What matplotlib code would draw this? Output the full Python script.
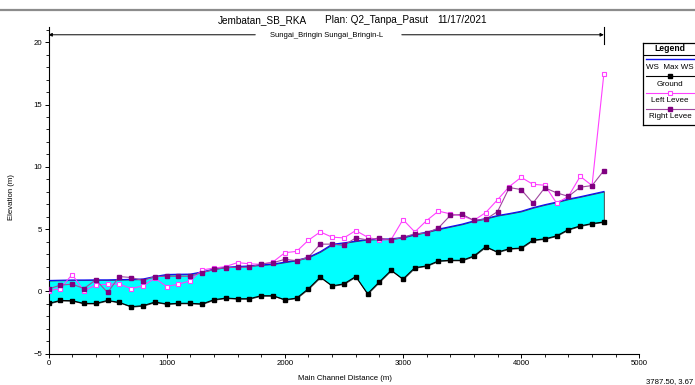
import matplotlib
matplotlib.use("Agg")
import matplotlib.pyplot as plt
from matplotlib.lines import Line2D
from matplotlib.ticker import MultipleLocator

plt.rcParams['font.family'] = ['Liberation Sans', 'DejaVu Sans']

# ---- profile data (main channel distance in m, elevations in m) ----
station_m = [0, 100, 200, 300, 400, 500, 600, 700, 800, 900,
             1000, 1100, 1200, 1300, 1400, 1500, 1600, 1700, 1800, 1900,
             2000, 2100, 2200, 2300, 2400, 2500, 2600, 2700, 2800, 2900,
             3000, 3100, 3200, 3300, 3400, 3500, 3600, 3700, 3800, 3900,
             4000, 4100, 4200, 4300, 4400, 4500, 4600, 4700]

ws_max = [0.88, 0.90, 0.92, 0.92, 0.93, 0.93, 0.95, 0.97, 1.00, 1.20,
          1.36, 1.38, 1.39, 1.57, 1.80, 1.94, 2.00, 2.05, 2.13, 2.20,
          2.35, 2.50, 2.74, 3.19, 3.78, 3.90, 4.04, 4.17, 4.19, 4.22,
          4.33, 4.57, 4.76, 5.00, 5.20, 5.40, 5.66, 5.85, 6.09, 6.25,
          6.43, 6.72, 6.96, 7.17, 7.41, 7.60, 7.81, 8.02]

ground = [-0.96, -0.72, -0.74, -0.96, -0.96, -0.72, -0.88, -1.22, -1.14, -0.85,
          -1.00, -0.95, -0.95, -1.00, -0.66, -0.53, -0.58, -0.58, -0.34, -0.34,
          -0.66, -0.53, 0.22, 1.15, 0.45, 0.61, 1.20, -0.18, 0.77, 1.70,
          0.99, 1.91, 2.05, 2.45, 2.50, 2.50, 2.84, 3.59, 3.16, 3.43,
          3.48, 4.12, 4.22, 4.46, 4.97, 5.26, 5.45, 5.58]

left_levee = [0.05, 0.24, 1.36, 0.06, 0.51, 0.59, 0.59, 0.24, 0.45, 1.07,
              0.40, 0.59, 0.85, 1.73, 1.88, 2.00, 2.32, 2.22, 2.18, 2.37,
              3.11, 3.22, 4.12, 4.78, 4.36, 4.30, 4.89, 4.36, 4.12, 4.17,
              5.77, 4.78, 5.69, 6.45, 6.23, 6.07, 5.71, 6.33, 7.36, 8.42,
              9.16, 8.60, 8.53, 7.09, 7.63, 9.24, 8.50, 17.45]

right_levee = [0.20, 0.51, 0.59, 0.24, 0.93, -0.08, 1.20, 1.12, 0.88, 1.20,
               1.22, 1.22, 1.22, 1.52, 1.77, 1.92, 1.94, 1.94, 2.22, 2.31,
               2.58, 2.47, 2.74, 3.80, 3.80, 3.70, 4.30, 4.14, 4.30, 4.12,
               4.36, 4.62, 4.70, 5.10, 6.10, 6.19, 5.71, 5.79, 6.41, 8.34,
               8.18, 7.09, 8.32, 7.92, 7.63, 8.37, 8.50, 9.70]

x_ticks = [0, 1000, 2000, 3000, 4000, 5000]
y_ticks = [-5, 0, 5, 10, 15, 20]

title_parts = ["Jembatan_SB_RKA", "Plan: Q2_Tanpa_Pasut", "11/17/2021"]
reach_label = "Sungai_Bringin Sungai_Bringin-L"
legend_labels = ["WS  Max WS", "Ground", "Left Levee", "Right Levee"]
cursor_text = "3787.50, 3.67"

# ---- colours ----
C_WS = '#1010F0'
C_FILL = '#00FFFF'
C_LL = '#FF40FF'
C_RL_LINE = '#A048A0'
C_RL_MARK = '#800080'

W, H = 695, 385
fig = plt.figure(figsize=(W / 100, H / 100), dpi=100)
fig.patch.set_facecolor('white')


def fx(px):
    return px / W


def fy(py):
    return 1 - py / H


# window separator line at the top
fig.add_artist(Line2D([0, 1], [fy(10), fy(10)], transform=fig.transFigure,
                      color='#8c8c8c', lw=1.6))

ax_left, ax_right = 48.5, 639.3
ax_top, ax_bot = 27.3, 353.8
ax = fig.add_axes([fx(ax_left), fy(ax_bot), (ax_right - ax_left) / W,
                   (ax_bot - ax_top) / H])
ax.set_xlim(0, 5000)
ax.set_ylim(-5, 21.2)

for s in ('top', 'right'):
    ax.spines[s].set_visible(False)
for s in ('left', 'bottom'):
    ax.spines[s].set_linewidth(0.8)

ax.set_xticks(x_ticks)
ax.set_yticks(y_ticks)
ax.xaxis.set_minor_locator(MultipleLocator(200))
ax.yaxis.set_minor_locator(MultipleLocator(1))
ax.tick_params(which='major', length=3, width=0.7, labelsize=5.6, pad=1.5)
ax.tick_params(which='minor', length=2, width=0.6)

# water between ground and max water surface
ax.fill_between(station_m, ground, ws_max, facecolor=C_FILL,
                edgecolor='#4a4a4a', lw=0.7, zorder=2)
ax.plot(station_m, ws_max, color=C_WS, lw=0.9, zorder=3)
ax.plot(station_m, ground, color='black', lw=0.8, marker='s', ms=2.7,
        zorder=4)
ax.plot(station_m, left_levee, color=C_LL, lw=0.8, marker='s', ms=3.0,
        mfc='white', mec=C_LL, mew=0.8, zorder=5)
ax.plot(station_m, right_levee, color=C_RL_LINE, lw=0.8, marker='s', ms=2.8,
        mfc=C_RL_MARK, mec=C_RL_MARK, zorder=6)

# reach extent arrow along the top
y_arrow = 20.6
ax.annotate('', xy=(station_m[0], y_arrow), xytext=(1750, y_arrow),
            arrowprops=dict(arrowstyle='-|>', color='black', lw=0.7,
                            mutation_scale=5, shrinkA=0, shrinkB=0),
            annotation_clip=False)
ax.annotate('', xy=(station_m[-1], y_arrow), xytext=(2990, y_arrow),
            arrowprops=dict(arrowstyle='-|>', color='black', lw=0.7,
                            mutation_scale=5, shrinkA=0, shrinkB=0),
            annotation_clip=False)
ax.plot([station_m[-1], station_m[-1]], [19.9, 21.2], color='black', lw=0.8,
        clip_on=False)
fig.text(fx(270.5), fy(35.5), reach_label, fontsize=5.5, ha='left',
         va='center')

# title
for part, px in zip(title_parts, [218, 325, 437]):
    fig.text(fx(px), fy(20), part, fontsize=7.2, ha='left', va='center')

# axis labels
fig.text(fx(345), fy(379), "Main Channel Distance (m)", fontsize=5.6,
         ha='center', va='center')
fig.text(fx(12), fy(197), "Elevation (m)", fontsize=5.6, rotation=90,
         ha='center', va='center')
fig.text(fx(646), fy(381.5), cursor_text, fontsize=5.6, ha='left',
         va='center')

# legend panel
lax = fig.add_axes([fx(643), fy(125), 60 / W, (125 - 43) / H])
lax.set_xlim(643, 703)
lax.set_ylim(125, 43)
lax.set_xticks([])
lax.set_yticks([])
for s in lax.spines.values():
    s.set_linewidth(0.9)
lax.text(670, 48.5, "Legend", fontsize=6.2, fontweight='bold', ha='center',
         va='center')
lax.plot([643, 703], [55, 55], color='black', lw=0.8)
lax.plot([646, 694], [59.3, 59.3], color=C_WS, lw=1.0)
lax.text(670, 67.3, legend_labels[0], fontsize=5.8, ha='center', va='center')
lax.plot([646, 694], [76, 76], color='black', lw=0.8)
lax.plot([670], [76], 's', color='black', ms=2.6)
lax.text(670, 84, legend_labels[1], fontsize=5.8, ha='center', va='center')
lax.plot([646, 694], [92.7, 92.7], color=C_LL, lw=0.8)
lax.plot([670], [92.7], 's', mfc='white', mec=C_LL, mew=0.8, ms=3.0)
lax.text(670, 100.3, legend_labels[2], fontsize=5.8, ha='center', va='center')
lax.plot([646, 694], [108.7, 108.7], color=C_RL_LINE, lw=0.8)
lax.plot([670], [108.7], 's', color=C_RL_MARK, ms=2.8)
lax.text(670, 116.5, legend_labels[3], fontsize=5.8, ha='center', va='center')

fig.savefig('out.png', dpi=100, facecolor='white')
